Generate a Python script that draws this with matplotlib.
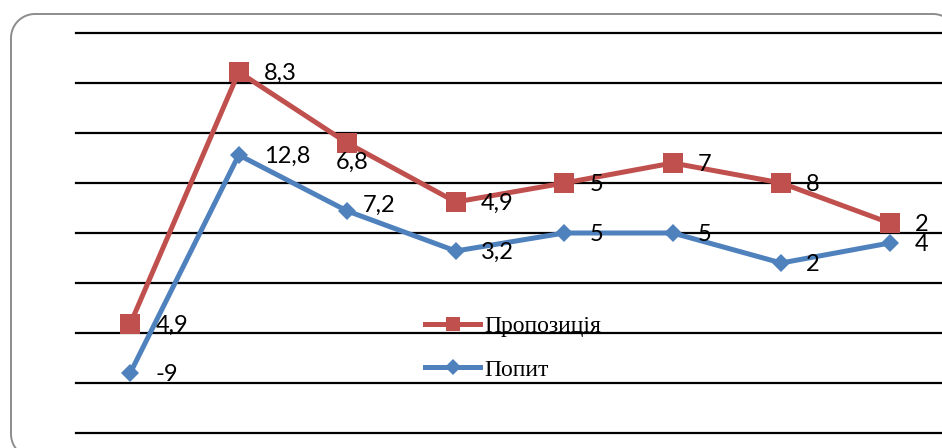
import matplotlib
matplotlib.use('Agg')
import matplotlib.pyplot as plt
from matplotlib.lines import Line2D
from matplotlib.transforms import IdentityTransform
import numpy as np

# ---- data ----
categories = ['1', '2', '3', '4', '5', '6', '7', '8']
demand = [-9, 12.8, 7.2, 3.2, 5, 5, 2, 4]          # Попит
supply = [4.9, 8.3, 6.8, 4.9, 5, 7, 8, 2]          # Пропозиція (stacked on Попит)
series_names = ['Пропозиція', 'Попит']
y_ticks = [-15, -10, -5, 0, 5, 10, 15, 20, 25]

# ---- styling ----
RED = '#C0504D'
BLUE = '#4F81BD'
W, H, DPI = 942, 448, 100

fig = plt.figure(figsize=(W / DPI, H / DPI), dpi=DPI)

# rounded chart border drawn in pixel space (right and bottom sides lie outside the image)
R = 24
bx0, bx1, by_top, by_bot = 11, 957, H - 14, -10

def arc(cx, cy, a0, a1, n=24):
    t = np.radians(np.linspace(a0, a1, n))
    return cx + R * np.cos(t), cy + R * np.sin(t)

segs = [
    arc(bx0 + R, by_bot + R, 270, 180),
    (np.array([bx0, bx0]), np.array([by_bot + R, by_top - R])),
    arc(bx0 + R, by_top - R, 180, 90),
    (np.array([bx0 + R, bx1 - R]), np.array([by_top, by_top])),
    arc(bx1 - R, by_top - R, 90, 0),
]
bxs = np.concatenate([s[0] for s in segs])
bys = np.concatenate([s[1] for s in segs])
border = Line2D(bxs, bys, transform=IdentityTransform(), color='#8C8C8C',
                linewidth=1.4, zorder=-1)
fig.add_artist(border)

ax = fig.add_axes([76 / W, 15 / H, 868 / W, 400 / H])
ax.patch.set_alpha(0)
x = np.arange(len(categories))
demand_arr = np.array(demand)
stacked = demand_arr + np.array(supply)

ax.set_xlim(-0.5, len(categories) - 0.5)
ax.set_ylim(y_ticks[0], y_ticks[-1])
ax.set_yticks(y_ticks)
ax.set_xticks([])
ax.tick_params(left=False, labelleft=False)
for s in ax.spines.values():
    s.set_visible(False)
ax.yaxis.grid(True, color='black', linewidth=1.6)
for gl in ax.get_ygridlines():
    gl.set_clip_on(False)
ax.set_axisbelow(True)

ax.plot(x, demand_arr, color=BLUE, lw=3.6, marker='D', markersize=9.5,
        markeredgewidth=0, zorder=3, clip_on=False)
ax.plot(x, stacked, color=RED, lw=3.6, marker='s', markersize=14,
        markeredgewidth=0, zorder=4, clip_on=False)

def fmt(v):
    return f'{v:g}'.replace('.', ',')

label_font = dict(family=['Lato', 'DejaVu Sans'], fontsize=17, color='black')
default_off = (18, -1)
supply_offsets = {2: (-8, -14)}
demand_offsets = {2: (11.5, 4)}

for i in x:
    off = supply_offsets.get(i, default_off)
    ax.annotate(fmt(supply[i]), (x[i], stacked[i]), xytext=off,
                textcoords='offset points', ha='left', va='center',
                zorder=6, annotation_clip=False, **label_font)
    off = demand_offsets.get(i, default_off)
    ax.annotate(fmt(demand[i]), (x[i], demand_arr[i]), xytext=off,
                textcoords='offset points', ha='left', va='center',
                zorder=6, annotation_clip=False, **label_font)

handles = [
    Line2D([], [], color=RED, lw=3.6, marker='s', markersize=10.5, markeredgewidth=0),
    Line2D([], [], color=BLUE, lw=3.6, marker='D', markersize=8.5, markeredgewidth=0),
]
leg = ax.legend(handles, series_names, loc='center left',
                bbox_to_anchor=((425 - 76) / 868, (433 - 348) / 400),
                frameon=False, borderpad=0, borderaxespad=0,
                handlelength=2.35, handletextpad=0.15, labelspacing=0.95,
                prop=dict(family=['Liberation Serif'], size=17))
leg.set_zorder(7)

fig.savefig('out.png', dpi=DPI)
